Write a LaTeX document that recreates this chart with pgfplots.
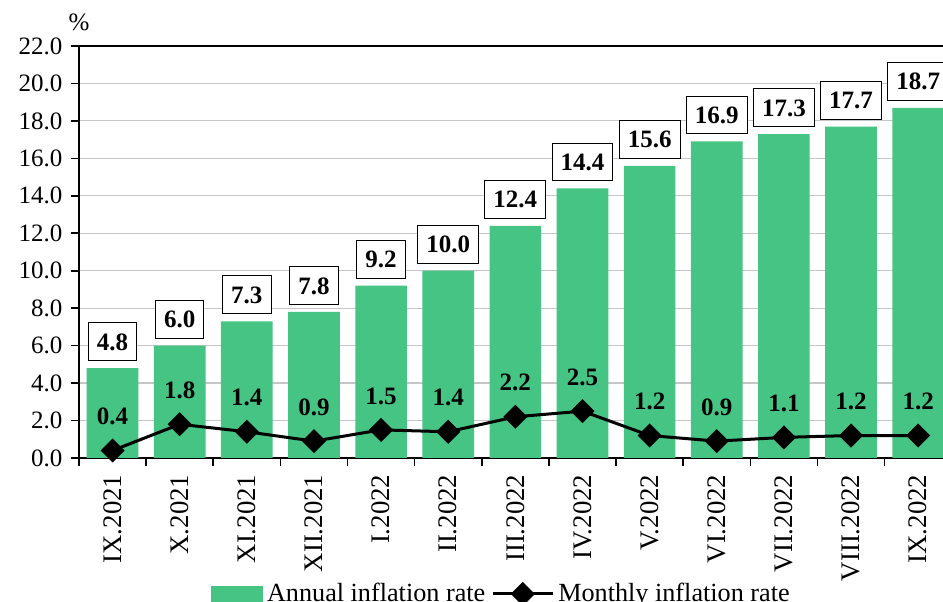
\documentclass[border=0pt]{standalone}
\usepackage{fontspec}
\setmainfont{Liberation Serif}
\usepackage{pgfplots}
\pgfplotsset{compat=1.18}
\definecolor{barg}{RGB}{69,196,132}
\pgfplotsset{
  barleg/.style={legend image code/.code={\fill[barg] (0pt,-4pt) rectangle (26pt,4pt);}},
  lineleg/.style={legend image code/.code={\draw[mark repeat=2,mark phase=2,##1] plot coordinates {(0pt,0pt) (15pt,0pt) (30pt,0pt)};}},
}
\begin{document}
\fontsize{12.5}{14}\selectfont
\begin{tikzpicture}
\begin{axis}[
  scale only axis, width=432pt, height=206pt,
  xmin=-0.5, xmax=12.37, ymin=0, ymax=22,
  axis x line*=bottom, axis y line*=left,
  axis line style={line width=0.8pt},
  tick align=outside,
  tick style={black, line width=0.8pt},
  major tick length=4pt, minor tick length=4pt,
  ytick={0,2,...,22},
  yticklabel style={/pgf/number format/.cd, fixed, fixed zerofill, precision=1, assume math mode=true},
  tick label style={font=\fontsize{12.5}{14}\selectfont},
  xtick={0,...,12},
  xticklabels={IX.2021,X.2021,XI.2021,XII.2021,I.2022,II.2022,III.2022,IV.2022,V.2022,VI.2022,VII.2022,VIII.2022,IX.2022},
  x tick label style={rotate=90, anchor=east, font=\fontsize{13.4}{15}\selectfont},
  major x tick style={draw=none},
  minor xtick={-0.5,0.5,...,11.5},
  ymajorgrids, grid style={gray!45, line width=0.6pt},
  clip=false,
  legend columns=2,
  legend style={at={(0.49,-0.33)}, anchor=center, draw=none, fill=none,
    font=\fontsize{13.1}{15}\selectfont, inner xsep=1pt,
    /tikz/every even column/.append style={column sep=1pt}},
]
\addplot[ybar, bar width=0.77, fill=barg, draw=none, barleg,
  nodes near coords={\pgfmathprintnumber[fixed,fixed zerofill,precision=1,assume math mode=true]{\pgfplotspointmeta}},
  every node near coord/.append style={draw=black, line width=0.5pt, fill=white,
    font=\bfseries\fontsize{12.5}{14}\selectfont, text height=8.5pt, text depth=0pt,
    inner xsep=4.3pt, inner ysep=5.2pt, anchor=south, yshift=3.5pt},
] coordinates {
 (0,4.8) (1,6.0) (2,7.3) (3,7.8) (4,9.2) (5,10.0) (6,12.4) (7,14.4) (8,15.6) (9,16.9) (10,17.3) (11,17.7) (12,18.7)
};
\addlegendentry{Annual inflation rate}
\addplot[black, line width=1.5pt, mark=square*, mark size=3.5pt, mark options={rotate=45, solid}, lineleg,
  nodes near coords={\pgfmathprintnumber[fixed,fixed zerofill,precision=1,assume math mode=true]{\pgfplotspointmeta}},
  every node near coord/.append style={font=\bfseries\fontsize{12.5}{14}\selectfont,
    inner sep=0pt, anchor=south, yshift=12pt},
] coordinates {
 (0,0.4) (1,1.8) (2,1.4) (3,0.9) (4,1.5) (5,1.4) (6,2.2) (7,2.5) (8,1.2) (9,0.9) (10,1.1) (11,1.2) (12,1.2)
};
\addlegendentry{Monthly inflation rate}
\draw[black, line width=0.8pt] (rel axis cs:0,1) -- (rel axis cs:1,1);
\node[font=\fontsize{12.5}{14}\selectfont] at ([yshift=12pt]rel axis cs:0,1) {\%};
\coordinate (bl) at (rel axis cs:0,0);
\coordinate (tr) at (rel axis cs:1,1);
\end{axis}
\pgfresetboundingbox
\path[use as bounding box] ([xshift=-39.5pt,yshift=-72pt]bl) rectangle ([yshift=23pt]tr);
\end{tikzpicture}
\end{document}
